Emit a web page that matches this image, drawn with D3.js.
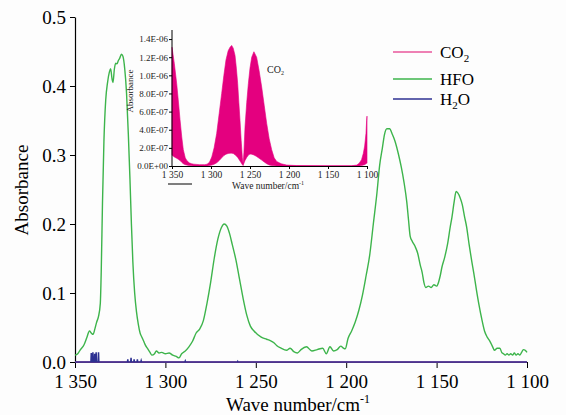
<!DOCTYPE html>
<html lang="en">
<head>
    <meta charset="UTF-8" />
    <title>HFO / CO2 / H2O absorbance</title>
    <script src="https://d3js.org/d3.v7.min.js"></script>
    <style>
        body { margin: 0; background: #fdfdfd; }
        svg, svg text { font-family: "Liberation Serif", "Times New Roman", serif; }
        .axis path, .axis line { stroke: #000; }
    </style>
</head>
<body>
    <script>
        // main axis ticks
        const xTicks = [1350, 1300, 1250, 1200, 1150, 1100];
        const xTickLabels = ['1 350', '1 300', '1 250', '1 200', '1 150', '1 100'];
        const yTicks = [0, 0.1, 0.2, 0.3, 0.4, 0.5];
        const yTickLabels = ['0.0', '0.1', '0.2', '0.3', '0.4', '0.5'];

        // inset ticks
        const insetYTicks = [0, 2e-7, 4e-7, 6e-7, 8e-7, 1.0e-6, 1.2e-6, 1.4e-6];
        const insetYTickLabels = ['0.0E+00', '2.0E-07', '4.0E-07', '6.0E-07', '8.0E-07', '1.0E-06', '1.2E-06', '1.4E-06'];

        // HFO spectrum
        const hfoWave = [1350, 1348.5, 1347, 1345, 1343.5, 1342, 1341, 1340, 1339, 1338, 1337, 1336, 1335.5, 1334.8, 1334,
            1333, 1332, 1331, 1330.3, 1329.5, 1329, 1328.2, 1327.5, 1326.8, 1326, 1325.3, 1324.3, 1323.5, 1322.5, 1321.5,
            1320.5, 1319.6, 1318.8, 1318, 1317, 1316, 1315, 1314, 1313, 1312, 1311, 1310, 1308.5, 1307.5, 1306, 1305,
            1303.5, 1302, 1300, 1298, 1296, 1294, 1292.5, 1291, 1289, 1287, 1285, 1283, 1281, 1279, 1277, 1275, 1273,
            1271, 1269, 1267.5, 1266, 1264.5, 1263, 1261, 1259, 1257, 1255, 1253, 1251, 1247, 1244, 1242, 1240, 1238.5,
            1236, 1233, 1231, 1229, 1227, 1225, 1222, 1219, 1216, 1213, 1211, 1209, 1207, 1205, 1203, 1201.5, 1200.5,
            1199, 1197, 1195, 1193, 1191, 1189, 1187, 1185, 1183, 1181.5, 1180, 1178.8, 1177.5, 1176, 1174.5, 1173,
            1171, 1169.5, 1168, 1166.5, 1165.5, 1164.6, 1163.5, 1162, 1160.5, 1159, 1158, 1157, 1156, 1154.5, 1153,
            1151.5, 1150, 1149, 1148, 1147, 1145.5, 1144, 1142.5, 1141.5, 1140.3, 1139.2, 1138.3, 1137, 1135.8, 1134.5,
            1133.4, 1132, 1130.5, 1129.5, 1128, 1126.5, 1125, 1123.5, 1122, 1120.5, 1119, 1118, 1116.5, 1115, 1114,
            1113, 1112, 1111, 1110, 1109, 1108, 1107, 1106, 1105, 1104, 1103, 1102, 1101, 1100];
        const hfoAbs = [0.010, 0.012, 0.018, 0.025, 0.035, 0.045, 0.042, 0.040, 0.048, 0.058, 0.066, 0.085, 0.13, 0.23, 0.32,
            0.38, 0.405, 0.42, 0.425, 0.41, 0.405, 0.425, 0.433, 0.432, 0.437, 0.44, 0.446, 0.443, 0.425, 0.39,
            0.33, 0.265, 0.2, 0.145, 0.1, 0.073, 0.055, 0.042, 0.036, 0.03, 0.024, 0.02, 0.014, 0.01, 0.012, 0.016,
            0.013, 0.014, 0.012, 0.013, 0.01, 0.008, 0.006, 0.012, 0.016, 0.022, 0.03, 0.042, 0.048, 0.06, 0.085, 0.115, 0.15,
            0.178, 0.195, 0.2, 0.197, 0.186, 0.17, 0.148, 0.12, 0.092, 0.068, 0.052, 0.045, 0.036, 0.033, 0.031, 0.028, 0.024,
            0.02, 0.017, 0.02, 0.015, 0.013, 0.018, 0.022, 0.016, 0.018, 0.02, 0.012, 0.022, 0.016, 0.018, 0.023, 0.02, 0.019,
            0.034, 0.045, 0.058, 0.075, 0.097, 0.125, 0.155, 0.2, 0.245, 0.285, 0.31, 0.33, 0.338, 0.338, 0.33, 0.32,
            0.3, 0.282, 0.26, 0.232, 0.205, 0.182, 0.175, 0.168, 0.158, 0.14, 0.13, 0.115, 0.108, 0.11, 0.108,
            0.112, 0.11, 0.115, 0.125, 0.138, 0.152, 0.17, 0.195, 0.21, 0.232, 0.247, 0.245, 0.238, 0.228, 0.21,
            0.196, 0.17, 0.145, 0.13, 0.105, 0.082, 0.062, 0.045, 0.036, 0.03, 0.022, 0.017, 0.02, 0.02, 0.014,
            0.012, 0.01, 0.012, 0.01, 0.012, 0.01, 0.013, 0.01, 0.012, 0.01, 0.014, 0.018, 0.017, 0.014];

        // H2O: baseline with a few narrow lines
        const h2oWave = [1350, 1341.2, 1341, 1340.8, 1340.3, 1340.1, 1339.9, 1339.3, 1339.1, 1338.9, 1338.5, 1338.3, 1338.1,
            1337.2, 1337, 1336.8, 1321, 1320.8, 1320.6, 1319.2, 1319, 1318.8, 1317.5, 1317.3, 1317.1, 1315.7, 1315.5,
            1315.3, 1313.6, 1313.4, 1313.2, 1289.2, 1289, 1288.8, 1260.2, 1260, 1259.8, 1100];
        const h2oAbs = [0, 0, 0.013, 0, 0, 0.014, 0, 0, 0.012, 0, 0, 0.014, 0,
            0, 0.014, 0, 0, 0.004, 0, 0, 0.006, 0, 0, 0.004, 0, 0, 0.004,
            0, 0, 0.002, 0, 0, 0.0015, 0, 0, 0.001, 0, 0];

        // CO2 (inset): envelope of the dense line spectrum
        const co2Wave = [1350, 1347, 1344, 1342, 1339.7, 1337.5, 1335.5, 1333, 1331, 1328, 1325, 1322, 1315, 1308, 1305,
            1302, 1299, 1296, 1292.7, 1289.5, 1286.3, 1283.5, 1280.8, 1278, 1275.6, 1273.5, 1271.5, 1269.2, 1267.5,
            1265.8, 1264.3, 1262.8, 1261.3, 1259.8, 1258.8, 1257.8, 1256.4, 1254.2, 1252.1, 1250, 1247.8, 1245, 1241.5,
            1238.3, 1235, 1231.8, 1228.6, 1225.4, 1222.2, 1219, 1215.8, 1210, 1203, 1190, 1150, 1120, 1113, 1110, 1107,
            1104.7, 1103, 1101.3, 1100.5, 1100];
        const co2Upper = [13.1e-7, 11.3e-7, 9.1e-7, 7.3e-7, 5.1e-7, 3.2e-7, 1.8e-7, 0.9e-7, 0.6e-7, 0.35e-7, 0.25e-7, 0.2e-7, 0.15e-7, 0.15e-7, 0.2e-7,
            0.4e-7, 1.0e-7, 2.0e-7, 3.6e-7, 5.8e-7, 8.0e-7, 10.0e-7, 11.7e-7, 12.7e-7, 13.1e-7, 13.3e-7, 13.0e-7, 12.2e-7, 10.8e-7,
            9.1e-7, 7.0e-7, 5.0e-7, 2.8e-7, 0.9e-7, 0.25e-7, 1.5e-7, 4.3e-7, 7.0e-7, 9.1e-7, 10.8e-7, 12.0e-7, 12.6e-7, 12.0e-7,
            10.5e-7, 8.7e-7, 6.7e-7, 4.7e-7, 3.0e-7, 1.8e-7, 0.9e-7, 0.5e-7, 0.25e-7, 0.1e-7, 0.05e-7, 0.03e-7, 0.03e-7, 0.1e-7, 0.3e-7, 0.7e-7,
            1.4e-7, 2.2e-7, 3.6e-7, 5.0e-7, 5.5e-7];
        const co2Lower = [1.2e-7, 1.0e-7, 0.85e-7, 0.75e-7, 0.6e-7, 0.4e-7, 0.25e-7, 0.15e-7, 0.1e-7, 0.05e-7, 0.02e-7, 0.01e-7, 0, 0, 0,
            0.05e-7, 0.1e-7, 0.2e-7, 0.35e-7, 0.6e-7, 0.9e-7, 1.15e-7, 1.3e-7, 1.38e-7, 1.42e-7, 1.42e-7, 1.38e-7, 1.25e-7, 1.1e-7,
            0.95e-7, 0.75e-7, 0.55e-7, 0.35e-7, 0.15e-7, 0.05e-7, 0.3e-7, 0.6e-7, 0.95e-7, 1.2e-7, 1.32e-7, 1.3e-7, 1.22e-7, 1.05e-7,
            0.85e-7, 0.65e-7, 0.45e-7, 0.25e-7, 0.12e-7, 0.05e-7, 0.02e-7, 0, 0, 0, 0, 0, 0, 0, 0, 0.05e-7,
            0.1e-7, 0.15e-7, 0.25e-7, 0.3e-7, 0.3e-7];

        const legendNames = [['CO', '2', ''], ['HFO', '', ''], ['H', '2', 'O']];
        const colors = { co2: '#e8569b', co2Fill: '#e4007f', hfo: '#3db44b', h2o: '#2e3192' };
        const serif = '"Liberation Serif", "Times New Roman", serif';

        const width = 566, height = 415;
        const svg = d3.select('body').append('svg').attr('width', width).attr('height', height);
        svg.append('rect').attr('width', width).attr('height', height).attr('fill', '#fdfdfd');

        // ---------- main chart ----------
        const x = d3.scaleLinear().domain([1350, 1100]).range([75, 527]);
        const y = d3.scaleLinear().domain([0, 0.5]).range([362, 17]);

        const xAxis = svg.append('g').attr('class', 'axis').attr('transform', 'translate(0,362)')
            .call(d3.axisBottom(x).tickValues(xTicks).tickSize(6).tickSizeOuter(0)
                .tickFormat((d, i) => xTickLabels[i]));
        xAxis.selectAll('text').style('font-family', serif).style('font-size', '19px')
            .attr('fill', '#000').attr('dy', '0.9em');
        xAxis.select('.domain').attr('stroke-width', 1);

        const yAxis = svg.append('g').attr('class', 'axis').attr('transform', 'translate(75,0)')
            .call(d3.axisLeft(y).tickValues(yTicks).tickSize(5).tickSizeOuter(0)
                .tickFormat((d, i) => yTickLabels[i]));
        yAxis.selectAll('text').style('font-family', serif).style('font-size', '19px')
            .attr('fill', '#000').attr('x', -9);
        yAxis.select('.domain').attr('stroke-width', 1.2);

        const line = d3.line().x(d => x(d[0])).y(d => y(d[1]));

        svg.append('path').datum(d3.zip(co2Wave, co2Upper))
            .attr('d', line).attr('fill', 'none').attr('stroke', colors.co2).attr('stroke-width', 1.5);
        svg.append('path').datum(d3.zip(hfoWave, hfoAbs))
            .attr('d', d3.line().x(d => x(d[0])).y(d => y(d[1])).curve(d3.curveMonotoneX)).attr('fill', 'none')
            .attr('stroke', colors.hfo).attr('stroke-width', 1.4);
        svg.append('path').datum(d3.zip(h2oWave, h2oAbs))
            .attr('d', line).attr('fill', 'none')
            .attr('stroke', colors.h2o).attr('stroke-width', 1.5);

        // axis titles
        const xTitle = svg.append('text').attr('x', 298).attr('y', 411).attr('text-anchor', 'middle')
            .attr('font-size', 19);
        xTitle.append('tspan').text('Wave number/cm');
        xTitle.append('tspan').attr('dy', -8).attr('font-size', 12).text('-1');

        svg.append('text').attr('transform', 'translate(28,190) rotate(-90)')
            .attr('text-anchor', 'middle').attr('font-size', 19).text('Absorbance');

        // legend
        const legend = svg.append('g');
        const legendY = [52, 79, 99];
        const legendCol = [colors.co2, colors.hfo, colors.h2o];
        legendNames.forEach((n, i) => {
            legend.append('line').attr('x1', 393).attr('x2', 432).attr('y1', legendY[i]).attr('y2', legendY[i])
                .attr('stroke', legendCol[i]).attr('stroke-width', 1.5);
            const t = legend.append('text').attr('x', 440).attr('y', legendY[i] + 6).attr('font-size', 17);
            t.append('tspan').text(n[0]);
            if (n[1]) t.append('tspan').attr('dy', 4).attr('font-size', 11).text(n[1]);
            if (n[2]) t.append('tspan').attr('dy', -4).text(n[2]);
        });

        // ---------- inset ----------
        const ix = d3.scaleLinear().domain([1350, 1100]).range([172, 367]);
        const iy = d3.scaleLinear().domain([0, 1.5e-6]).range([166, 30]);

        const area = d3.area().x(d => ix(d[0])).y0(d => iy(d[2])).y1(d => iy(d[1]));
        svg.append('path').datum(d3.zip(co2Wave, co2Upper, co2Lower))
            .attr('d', area).attr('fill', colors.co2Fill).attr('stroke', colors.co2Fill).attr('stroke-width', 0.6);

        const ixAxis = svg.append('g').attr('class', 'axis').attr('transform', 'translate(0,166)')
            .call(d3.axisBottom(ix).tickValues(xTicks).tickSize(3).tickSizeOuter(0)
                .tickFormat((d, i) => xTickLabels[i]));
        ixAxis.selectAll('text').style('font-family', serif).style('font-size', '9.5px')
            .attr('fill', '#222').attr('dy', '0.6em');
        ixAxis.select('.domain').attr('stroke', colors.co2).attr('stroke-width', 1.2);

        const iyAxis = svg.append('g').attr('class', 'axis').attr('transform', 'translate(172,0)')
            .call(d3.axisLeft(iy).tickValues(insetYTicks).tickSize(3).tickSizeOuter(0)
                .tickFormat((d, i) => insetYTickLabels[i]));
        iyAxis.selectAll('text').style('font-family', serif).style('font-size', '9px')
            .attr('fill', '#222').attr('x', -4);
        iyAxis.select('.domain').attr('d', 'M0,30V166');

        svg.append('text').attr('transform', 'translate(133,91) rotate(-90)')
            .attr('text-anchor', 'middle').attr('font-size', 9).attr('fill', '#222').text('Absorbance');

        const ixTitle = svg.append('text').attr('x', 232).attr('y', 189).attr('font-size', 9.5).attr('fill', '#222');
        ixTitle.append('tspan').text('Wave number/cm');
        ixTitle.append('tspan').attr('dy', -4).attr('font-size', 6).text('-1');

        svg.append('line').attr('x1', 168).attr('x2', 192).attr('y1', 184).attr('y2', 184)
            .attr('stroke', '#000').attr('stroke-width', 1);

        const co2Label = svg.append('text').attr('x', 267).attr('y', 73).attr('font-size', 10).attr('fill', '#222');
        co2Label.append('tspan').text('CO');
        co2Label.append('tspan').attr('dy', 2).attr('font-size', 6).text('2');
    </script>
</body>
</html>
